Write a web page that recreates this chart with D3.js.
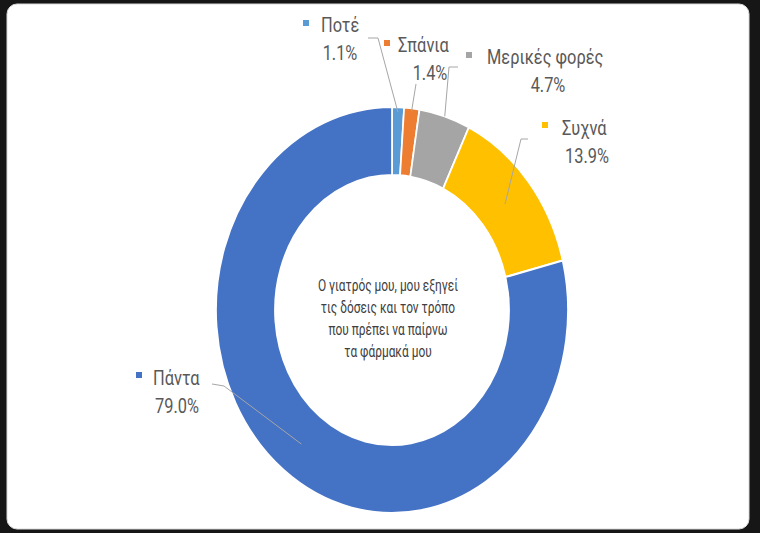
<!DOCTYPE html>
<html>
<head>
<meta charset="utf-8">
<script src="https://cdn.jsdelivr.net/npm/d3@7"></script>
<style>
  body { margin: 0; background: #161616; }
  svg { display: block; }
</style>
</head>
<body>
<svg width="760" height="533"></svg>
<script>
// data
var categories = ["Ποτέ", "Σπάνια", "Μερικές φορές", "Συχνά", "Πάντα"];
var values = [1.1, 1.4, 4.7, 13.9, 79.0];
var colors = ["#5B9BD5", "#ED7D31", "#A5A5A5", "#FFC000", "#4472C4"];
var centerLines = ["Ο γιατρός μου, μου εξηγεί", "τις δόσεις και τον τρόπο", "που πρέπει να παίρνω", "τα φάρμακά μου"];

// label layout (marker, first line start, second line centre, leader bend points)
var labelLayout = [
  {mx: 303, my: 20, tx: 321, y1: 32, cx2: 340, y2: 60, bend: [[368, 38], [378, 38]], r: 198},
  {mx: 384, my: 40, tx: 398, y1: 52, cx2: 430, y2: 80, bend: [[416, 84]], r: 200},
  {mx: 466, my: 52, tx: 487, y1: 64, cx2: 548, y2: 92, bend: [[458, 67], [449, 67]], r: 203},
  {mx: 542, my: 122, tx: 562, y1: 135, cx2: 587, y2: 163, bend: [[528, 139], [521, 139]], r: 168},
  {mx: 136, my: 372, tx: 153, y1: 385, cx2: 177, y2: 413, bend: [[212, 384], [224, 386]], r: 170}
];

var svg = d3.select("svg");
var cx = 392, cy = 310, sx = 0.867;
var outerR = 203, innerR = 135;

// panel
svg.append("rect").attr("x", 7).attr("y", 4).attr("width", 742).attr("height", 525)
  .attr("rx", 10).attr("fill", "#ffffff").attr("stroke", "#d9d9d9");

var pie = d3.pie().sort(null).value(function(d){ return d; });
var arcs = pie(values);
var arc = d3.arc().innerRadius(innerR).outerRadius(outerR);

var ring = svg.append("g").attr("transform", "translate(" + cx + "," + cy + ") scale(" + sx + ",1)");
ring.selectAll("path").data(arcs).join("path")
  .attr("d", arc)
  .attr("fill", function(d, i){ return colors[i]; })
  .attr("stroke", "#ffffff")
  .attr("stroke-width", 2);

// leader lines
var line = d3.line();
arcs.forEach(function(a, i) {
  var L = labelLayout[i];
  var mid = (a.startAngle + a.endAngle) / 2;
  var end = [cx + Math.sin(mid) * L.r * sx, cy - Math.cos(mid) * L.r];
  svg.append("path")
    .attr("d", line(L.bend.concat([end])))
    .attr("fill", "none")
    .attr("stroke", "#a6a6a6")
    .attr("stroke-width", 1);
});

// labels
var fontFam = "Roboto, 'Noto Sans', sans-serif";
var tsx = 0.82;
labelLayout.forEach(function(L, i) {
  svg.append("rect").attr("x", L.mx).attr("y", L.my).attr("width", 6).attr("height", 6)
    .attr("fill", colors[i]);
  svg.append("text")
    .attr("transform", "translate(" + L.tx + "," + L.y1 + ") scale(" + tsx + ",1)")
    .attr("font-family", fontFam).attr("font-size", 20).attr("fill", "#595959")
    .text(categories[i]);
  svg.append("text")
    .attr("transform", "translate(" + L.cx2 + "," + L.y2 + ") scale(" + tsx + ",1)")
    .attr("text-anchor", "middle")
    .attr("font-family", fontFam).attr("font-size", 20).attr("fill", "#595959")
    .text(values[i].toFixed(1) + "%");
});

// centre text
svg.selectAll("text.center").data(centerLines).join("text")
  .attr("class", "center")
  .attr("transform", function(d, i){ return "translate(" + 388 + "," + (291 + i * 22) + ") scale(0.7,1)"; })
  .attr("text-anchor", "middle")
  .attr("font-family", fontFam).attr("font-size", 17).attr("fill", "#404040")
  .text(function(d){ return d; });
</script>
</body>
</html>
